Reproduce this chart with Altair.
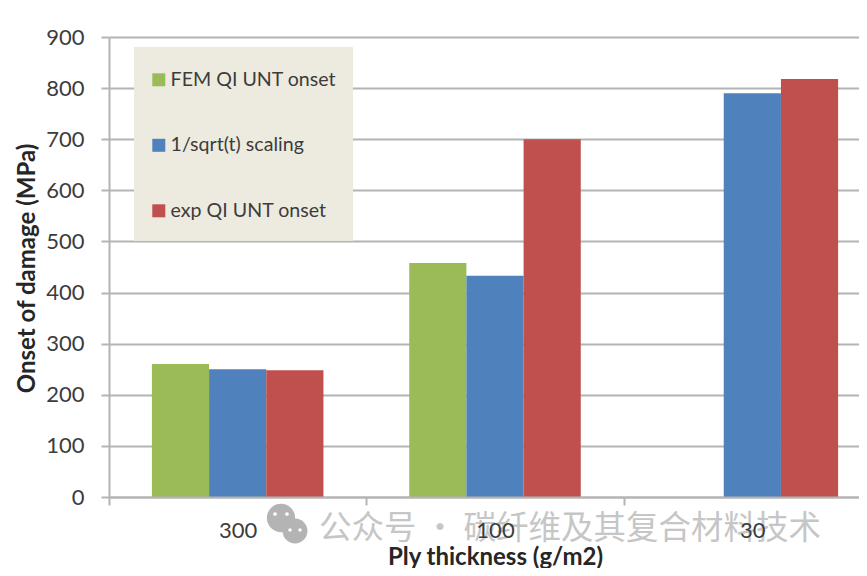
import altair as alt
import pandas as pd

categories = ["300", "100", "30"]
series_names = ["FEM QI UNT onset", "1/sqrt(t) scaling", "exp QI UNT onset"]
fem_values = [260, 458, None]
scaling_values = [250, 433, 790]
exp_values = [248, 700, 818]
colors = ["#9BBB59", "#4F81BD", "#C0504D"]
y_ticks = [0, 100, 200, 300, 400, 500, 600, 700, 800, 900]
watermark = "公众号 · 碳纤维及其复合材料技术"

rows = []
for name, vals in zip(series_names, [fem_values, scaling_values, exp_values]):
    for c, v in zip(categories, vals):
        if v is not None:
            rows.append({"cat": c, "series": name, "value": v})
df = pd.DataFrame(rows)

FONT = "Lato"
INK = "#3c3c3c"
GRID = "#b4b4b4"

legend_box = alt.Chart(pd.DataFrame({"a": [0]})).mark_rect(color="#EDEBE0").encode(
    x=alt.value(25), x2=alt.value(244), y=alt.value(10), y2=alt.value(204)
)

bars = alt.Chart(df).mark_bar(stroke=None).encode(
    x=alt.X(
        "cat:N",
        sort=categories,
        scale=alt.Scale(domain=categories, range=[0, 772], paddingInner=0, paddingOuter=0),
        axis=alt.Axis(
            title="Ply thickness (g/m2)", titleFont=FONT, titleFontSize=24, titleFontWeight="bold",
            titleColor="#262626", titleX=386, titleY=60, titleAnchor="middle", titleBaseline="middle",
            labelFont=FONT, labelFontSize=22, labelColor=INK, labelAngle=0, labelPadding=15,
            domainColor=GRID, domainWidth=2, tickColor=GRID, tickWidth=2, tickSize=8,
            tickBand="extent", grid=False, zindex=1,
        ),
    ),
    xOffset=alt.XOffset("series:N", sort=series_names, scale=alt.Scale(domain=series_names, paddingInner=0, paddingOuter=0.75)),
    y=alt.Y(
        "value:Q",
        scale=alt.Scale(domain=[0, 900], nice=False),
        axis=alt.Axis(
            values=y_ticks, title="Onset of damage (MPa)", titleFont=FONT, titleFontSize=24,
            titleFontWeight="bold", titleColor="#262626", titleX=-70, titleY=231, titleAnchor="middle",
            labelFont=FONT, labelFontSize=22, labelColor=INK, labelPadding=17,
            domainColor=GRID, domainWidth=2, tickColor=GRID, tickWidth=2, tickSize=8,
            grid=True, gridColor=GRID, gridWidth=2,
        ),
    ),
    color=alt.Color(
        "series:N",
        scale=alt.Scale(domain=series_names, range=colors),
        legend=alt.Legend(
            title=None, orient="none", legendX=40, legendY=33, padding=0,
            rowPadding=44.5, symbolType="square", symbolSize=169, symbolStrokeWidth=0,
            labelFont=FONT, labelFontSize=19.6, labelColor=INK, labelOffset=2, labelLimit=300,
        ),
    ),
)

wm = alt.Chart(pd.DataFrame({"t": [watermark]})).mark_text(
    font="Noto Sans CJK SC", fontSize=32.5, color="#c6c6c6", align="left", baseline="middle"
).encode(text="t:N", x=alt.value(210), y=alt.value(492))

icon = alt.Chart(pd.DataFrame({
    "px": [172, 186, 166, 178, 181, 191],
    "py": [481, 494, 477, 477, 493, 493],
    "s": [800, 620, 14, 14, 12, 12],
    "c": ["#b4b4b4", "#b4b4b4", "#ffffff", "#ffffff", "#ffffff", "#ffffff"],
})).mark_point(shape="circle", filled=True, opacity=1).encode(
    x=alt.X("px:Q", scale=None),
    y=alt.Y("py:Q", scale=None),
    size=alt.Size("s:Q", scale=None, legend=None),
    color=alt.Color("c:N", scale=None, legend=None),
    order=alt.Order("s:Q", sort="descending"),
)

chart = alt.layer(legend_box, bars, wm, icon).resolve_scale(color="independent").properties(
    width=750, height=460,
    autosize=alt.AutoSizeParams(type="none"),
    padding={"left": 101, "top": 29, "right": 0, "bottom": 71},
    background="white",
).configure_view(stroke=None)

chart.save("out.html", embed_options={"renderer": "svg", "actions": False})
